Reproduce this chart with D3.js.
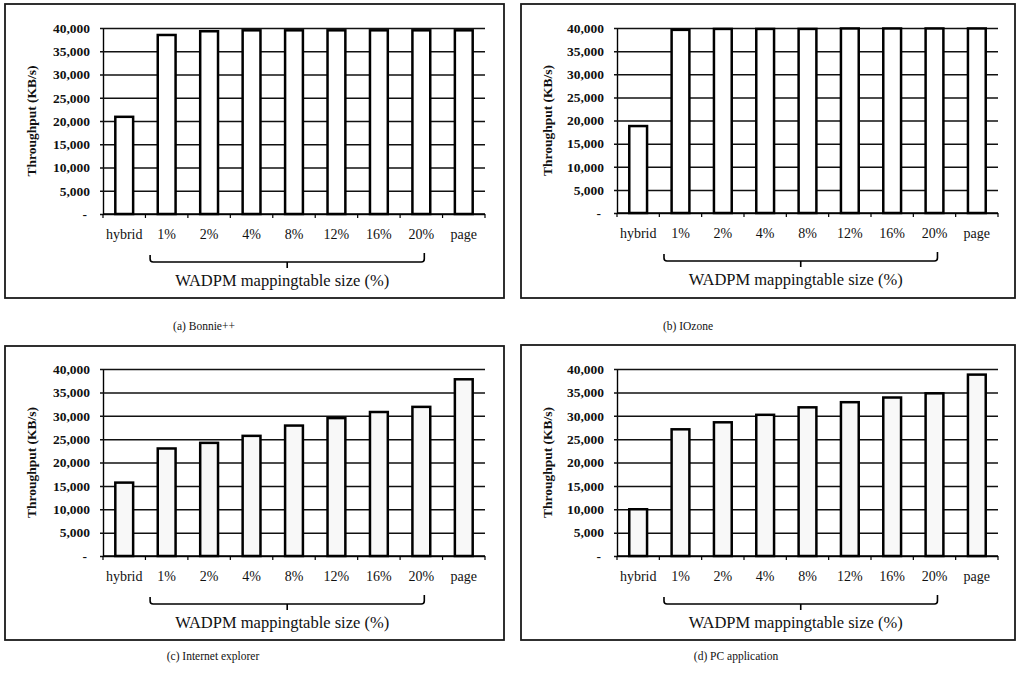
<!DOCTYPE html>
<html>
<head>
<meta charset="utf-8">
<script src="https://cdn.jsdelivr.net/npm/d3@7"></script>
<style>
  body { margin: 0; background: #fff; }
  svg { display: block; }
  text { font-family: "Liberation Serif", "Times New Roman", serif; fill: #111; }
</style>
</head>
<body>
<svg id="chart" width="1017" height="673"></svg>
<script>
// ---- data ------------------------------------------------------------------
const CATEGORIES = ["hybrid", "1%", "2%", "4%", "8%", "12%", "16%", "20%", "page"];
const BONNIE   = [20900, 38500, 39300, 39500, 39500, 39500, 39500, 39500, 39500];
const IOZONE   = [18800, 39600, 39800, 39800, 39800, 39900, 39900, 39900, 39900];
const EXPLORER = [15700, 23000, 24200, 25700, 27900, 29500, 30800, 31900, 37800];
const PCAPP    = [10000, 27100, 28600, 30200, 31800, 32900, 33900, 34800, 38800];
const Y_TICKS  = [0, 5000, 10000, 15000, 20000, 25000, 30000, 35000, 40000];
const CAPTIONS = ["(a) Bonnie++", "(b) IOzone", "(c) Internet explorer", "(d) PC application"];
const Y_TITLE  = "Throughput (KB/s)";
const X_TITLE  = "WADPM mappingtable size (%)";

// ---- layout: frame [x,y,w,h], plot [x,y,w,h], caption [cx, baseline] -------
const PANELS = [
  { values: BONNIE,   caption: CAPTIONS[0], frame: [5, 4, 499, 294],   plot: [103, 28, 382, 186],  cap: [204, 330], fill: "#fff" },
  { values: IOZONE,   caption: CAPTIONS[1], frame: [521, 4, 494, 294], plot: [617, 28, 381, 185],  cap: [688, 330], fill: "#fff" },
  { values: EXPLORER, caption: CAPTIONS[2], frame: [5, 346, 499, 294], plot: [103, 369, 382, 187], cap: [213, 660], fill: "#f8f8f8" },
  { values: PCAPP,    caption: CAPTIONS[3], frame: [521, 345, 494, 295], plot: [617, 369, 381, 187], cap: [736, 660], fill: "#f8f8f8" },
];

const svg = d3.select("#chart");
const fmt = d3.format(",");

PANELS.forEach((p) => {
  const [px, py, pw, ph] = p.plot;
  const g = svg.append("g");

  // cadre du panneau
  g.append("rect")
    .attr("x", p.frame[0]).attr("y", p.frame[1])
    .attr("width", p.frame[2]).attr("height", p.frame[3])
    .attr("fill", "none").attr("stroke", "#1a1a1a").attr("stroke-width", 1.8);

  const x = d3.scaleBand().domain(CATEGORIES).range([px, px + pw]).paddingInner(0.58).paddingOuter(0.29);
  const y = d3.scaleLinear().domain([0, 40000]).range([py + ph, py]);
  const step = x.step(), bw = x.bandwidth();

  // axe Y + lignes de grille
  const ya = g.append("g")
    .attr("transform", `translate(${px},0)`)
    .call(d3.axisLeft(y).tickValues(Y_TICKS).tickSizeInner(-pw).tickSizeOuter(0).tickPadding(13)
      .tickFormat((d) => (d === 0 ? "-" : fmt(d))));
  ya.select(".domain").attr("stroke", "#000").attr("stroke-width", 1.4);
  ya.selectAll(".tick line").attr("x1", -3).attr("stroke", "#111").attr("stroke-width", 1.5);
  ya.selectAll(".tick text")
    .attr("font-size", 13.5).attr("font-weight", "bold").style("fill", "#111")
    .attr("dx", (d) => (d === 0 ? -3 : 0));

  // ligne de base + petits traits entre catégories
  const base = y(0);
  g.append("line").attr("x1", px).attr("x2", px + pw).attr("y1", base).attr("y2", base)
    .attr("stroke", "#000").attr("stroke-width", 1.5);
  g.selectAll("line.xt").data(d3.range(CATEGORIES.length + 1)).join("line")
    .attr("class", "xt")
    .attr("x1", (i) => px + i * step).attr("x2", (i) => px + i * step)
    .attr("y1", base).attr("y2", base + 4)
    .attr("stroke", "#000").attr("stroke-width", 1.2);

  // barres
  g.selectAll("rect.bar").data(p.values).join("rect")
    .attr("class", "bar")
    .attr("x", (d, i) => x(CATEGORIES[i]))
    .attr("y", (d) => y(d))
    .attr("width", bw)
    .attr("height", (d) => base - y(d))
    .attr("fill", p.fill).attr("stroke", "#000").attr("stroke-width", 2.5);

  // étiquettes des catégories
  g.selectAll("text.cat").data(CATEGORIES).join("text")
    .attr("class", "cat")
    .attr("x", (d) => x(d) + bw / 2).attr("y", base + 25)
    .attr("text-anchor", "middle").attr("font-size", 14)
    .text((d) => d);

  // titre Y
  g.append("text")
    .attr("transform", `translate(${p.frame[0] + 31},${py + ph / 2}) rotate(-90)`)
    .attr("text-anchor", "middle").attr("font-size", 13.5).attr("font-weight", "bold")
    .text(Y_TITLE);

  // accolade sous 1% .. 20%
  const L = x("1%") - 0.18 * step, R = x("20%") + 0.28 * step, M = (L + R) / 2;
  const y0 = base + 41, y1 = base + 48, y2 = base + 54;
  g.append("path")
    .attr("d", `M${L},${y0} V${y1 - 3} Q${L},${y1} ${L + 3},${y1} H${R - 3} Q${R},${y1} ${R},${y1 - 3} V${y0 - 2}` +
               ` M${M},${y1} V${y2}`)
    .attr("fill", "none").attr("stroke", "#000").attr("stroke-width", 1.6);

  g.append("text")
    .attr("x", M - 5).attr("y", base + 72)
    .attr("text-anchor", "middle").attr("font-size", 16.5)
    .text(X_TITLE);

  // légende sous le cadre
  g.append("text")
    .attr("x", p.cap[0]).attr("y", p.cap[1])
    .attr("text-anchor", "middle").attr("font-size", 11.5)
    .text(p.caption);
});
</script>
</body>
</html>
